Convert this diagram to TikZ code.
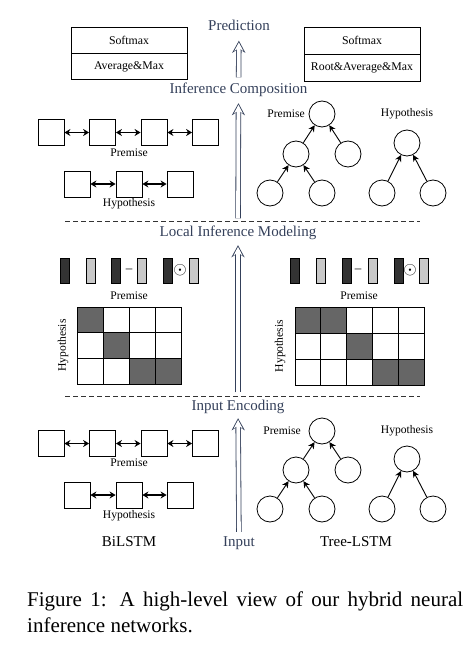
\documentclass[tikz,border=0pt]{standalone}
\usepackage{fontspec}
\setmainfont{Liberation Serif}
\usetikzlibrary{arrows.meta,positioning}
\definecolor{sec}{HTML}{34405A}
\definecolor{gridgray}{HTML}{666666}
\definecolor{darkv}{HTML}{333333}
\definecolor{lightv}{HTML}{C8C8C8}
\begin{document}
\begin{tikzpicture}[x=1pt,y=-1pt,
  lab/.style={font=\fontsize{11.6}{13}\selectfont, inner sep=0pt},
  sect/.style={font=\fontsize{15}{17}\selectfont, text=sec, inner sep=0pt, text height=10.5pt, text depth=3.5pt, anchor=base},
  mdl/.style={font=\fontsize{15}{17}\selectfont, inner sep=0pt, anchor=base},
  sbox/.style={draw, line width=0.8pt, minimum width=116pt, inner sep=0pt, font=\fontsize{11.8}{13}\selectfont},
  cell/.style={draw, line width=0.8pt, minimum size=26pt, inner sep=0pt},
  tn/.style={draw, circle, line width=0.8pt, minimum size=26pt, inner sep=0pt},
  bi/.style={{Stealth[length=6pt,width=7pt]}-{Stealth[length=6pt,width=7pt]}, line width=1.1pt},
  upar/.style={-{Stealth[length=6.5pt,width=6.5pt]}, line width=0.9pt},
  bigo/.style={draw=sec, line width=5.4pt, -{Stealth[length=12pt,width=13pt,inset=4pt]}},
  bigi/.style={draw=white, line width=3.8pt, -{Stealth[length=8.6pt,width=9pt,inset=3pt]}},
  dv/.style={draw, fill=darkv, minimum width=9pt, minimum height=25pt, inner sep=0pt, line width=0.6pt},
  lv/.style={draw, fill=lightv, minimum width=9pt, minimum height=25pt, inner sep=0pt, line width=0.6pt},
  op/.style={inner sep=0pt, font=\fontsize{13}{14}\selectfont},
  odt/.style={inner sep=0pt, font=\fontsize{18}{18}\selectfont},
  sep/.style={dashed, dash pattern=on 5pt off 3pt, line width=0.7pt, draw=black!80},
  gc/.style={draw, line width=0.8pt}
]
\useasboundingbox (0,0) rectangle (470,650);

% ---------- section labels ----------
\node[sect] (pred) at (239,31) {Prediction};
\node[sect] (icomp) at (238.5,94) {Inference Composition};
\node[sect] (lim) at (238,236) {Local Inference Modeling};
\node[sect] (ienc) at (238,410) {Input Encoding};
\node[sect] (inp) at (239,546) {Input};

% hollow arrows: outline pass + white interior pass
\draw[bigo, shorten <=6pt, shorten >=6pt] (icomp) -- (pred);
\draw[bigi, shorten <=6pt, shorten >=7.7pt] (icomp) -- (pred);
\draw[bigo, shorten <=7pt, shorten >=5.5pt] (lim) -- (icomp);
\draw[bigi, shorten <=7pt, shorten >=7.2pt] (lim) -- (icomp);
\draw[bigo, shorten <=7pt, shorten >=5.5pt] (ienc) -- (lim);
\draw[bigi, shorten <=7pt, shorten >=7.2pt] (ienc) -- (lim);
\draw[bigo, shorten <=3.5pt, shorten >=4.5pt] (inp) -- (ienc);
\draw[bigi, shorten <=3.5pt, shorten >=6.2pt] (inp) -- (ienc);

\draw[sep] (65,221) -- (420,221);
\draw[sep] (65,396) -- (420,396);

% ---------- top boxes ----------
\node[sbox, minimum height=26pt] (lsm) at (129,40) {Softmax};
\node[sbox, minimum height=26pt, anchor=north] (lam) at (lsm.south) {Average\&Max};
\node[sbox, minimum height=27pt] (rsm) at (362,40.5) {Softmax};
\node[sbox, minimum height=27pt, anchor=north] (ram) at (rsm.south) {Root\&Average\&Max};

% ---------- BiLSTM (composition) ----------
\node[cell] (cp1) at (51,132.5) {};
\node[cell] (cp2) at (102.5,132.5) {};
\node[cell] (cp3) at (154,132.5) {};
\node[cell] (cp4) at (205.5,132.5) {};
\node[lab] (cpl) at (129,153) {Premise};
\node[cell] (ch1) at (77,184) {};
\node[cell] (ch2) at (129,184) {};
\node[cell] (ch3) at (180,184) {};
\node[lab] (chl) at (129,204) {Hypothesis};
\draw[bi] (cp1) -- (cp2);
\draw[bi] (cp2) -- (cp3);
\draw[bi] (cp3) -- (cp4);
\draw[bi] (ch1) -- (ch2);
\draw[bi] (ch2) -- (ch3);

% ---------- Tree (composition) ----------
\node[tn] (tr) at (322,114) {};
\node[tn] (tml) at (296,154) {};
\node[tn] (tmr) at (348,154) {};
\node[tn] (tl1) at (270,193) {};
\node[tn] (tl2) at (322,193) {};
\node[lab] (tpl) at (286,114) {Premise};
\draw[upar] (tml) -- (tr);
\draw[upar] (tmr) -- (tr);
\draw[upar] (tl1) -- (tml);
\draw[upar] (tl2) -- (tml);
\node[tn] (thr) at (407,143) {};
\node[tn] (thl1) at (382,193) {};
\node[tn] (thl2) at (433,193) {};
\node[lab] (thl) at (407,114) {Hypothesis};
\draw[upar] (thl1) -- (thr);
\draw[upar] (thl2) -- (thr);

% ---------- Local inference: vectors ----------
\node[dv] (la1) at (64.5,270.5) {};
\node[lv] (lb1) at (90.5,270.5) {};
\node[dv] (la2) at (115.5,270.5) {};
\node[op] (lm) at (129,270.5) {–};
\node[lv] (lb2) at (142,270.5) {};
\node[dv] (la3) at (167.5,270.5) {};
\node[odt] (lo) at (180,270.5) {$\odot$};
\node[lv] (lb3) at (194,270.5) {};
\node[lab] (lvp) at (129,296) {Premise};

\node[dv] (ra1) at (295,270.5) {};
\node[lv] (rb1) at (321,270.5) {};
\node[dv] (ra2) at (346.5,270.5) {};
\node[op] (rm) at (358,270.5) {–};
\node[lv] (rb2) at (372.5,270.5) {};
\node[dv] (ra3) at (398.5,270.5) {};
\node[odt] (ro) at (410,270.5) {$\odot$};
\node[lv] (rb3) at (424,270.5) {};
\node[lab] (rvp) at (359,296) {Premise};

% ---------- attention grids ----------
\begin{scope}[shift={(77,307)}, x=26pt, y=-25.7pt]
  \fill[gridgray] (0,0) rectangle (1,1);
  \fill[gridgray] (1,1) rectangle (2,2);
  \fill[gridgray] (2,2) rectangle (4,3);
  \foreach \i in {0,...,3} \foreach \j in {0,1,2}
    \draw[gc] (\i,\j) rectangle ({\i+1},{\j+1});
\end{scope}
\node[lab, rotate=90] (lgh) at (63,345.5) {Hypothesis};

\begin{scope}[shift={(295,307)}, x=25.8pt, y=-26pt]
  \fill[gridgray] (0,0) rectangle (2,1);
  \fill[gridgray] (2,1) rectangle (3,2);
  \fill[gridgray] (3,2) rectangle (5,3);
  \foreach \i in {0,...,4} \foreach \j in {0,1,2}
    \draw[gc] (\i,\j) rectangle ({\i+1},{\j+1});
\end{scope}
\node[lab, rotate=90] (rgh) at (280,346) {Hypothesis};

% ---------- BiLSTM (encoding) ----------
\node[cell] (ep1) at (51,443.5) {};
\node[cell] (ep2) at (102.5,443.5) {};
\node[cell] (ep3) at (154,443.5) {};
\node[cell] (ep4) at (205.5,443.5) {};
\node[lab] (epl) at (129,463) {Premise};
\node[cell] (eh1) at (77,495) {};
\node[cell] (eh2) at (129,495) {};
\node[cell] (eh3) at (180,495) {};
\node[lab] (ehl) at (129,516) {Hypothesis};
\draw[bi] (ep1) -- (ep2);
\draw[bi] (ep2) -- (ep3);
\draw[bi] (ep3) -- (ep4);
\draw[bi] (eh1) -- (eh2);
\draw[bi] (eh2) -- (eh3);
\node[mdl] (bil) at (129,546) {BiLSTM};

% ---------- Tree (encoding) ----------
\node[tn] (er) at (322,431) {};
\node[tn] (eml) at (296,470) {};
\node[tn] (emr) at (348,470) {};
\node[tn] (el1) at (270,509) {};
\node[tn] (el2) at (322,509) {};
\node[lab] (epl2) at (282,431) {Premise};
\draw[upar] (eml) -- (er);
\draw[upar] (emr) -- (er);
\draw[upar] (el1) -- (eml);
\draw[upar] (el2) -- (eml);
\node[tn] (ehr) at (407,459) {};
\node[tn] (ehl1) at (382,509) {};
\node[tn] (ehl2) at (433,509) {};
\node[lab] (ehl2l) at (407,431) {Hypothesis};
\draw[upar] (ehl1) -- (ehr);
\draw[upar] (ehl2) -- (ehr);
\node[mdl] (tls) at (356,546) {Tree-LSTM};

% ---------- caption ----------
\node[anchor=north west, inner sep=0pt, align=left, font=\fontsize{21}{26}\selectfont] (cap) at (27,591.7)
  {\makebox[436pt][s]{Figure 1: A high-level view of our hybrid neural}\\inference networks.};
\end{tikzpicture}
\end{document}
